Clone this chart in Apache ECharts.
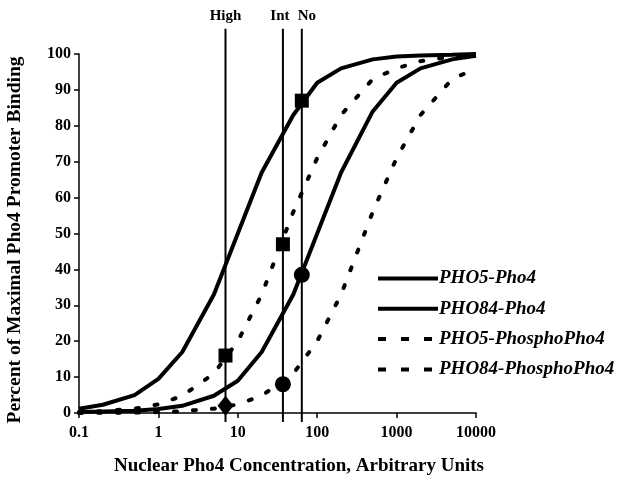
<!DOCTYPE html>
<html>
<head>
<meta charset="utf-8">
<script src="https://cdn.jsdelivr.net/npm/echarts@6/dist/echarts.min.js"></script>
<style>
  html, body { margin: 0; padding: 0; background: #fff; }
  #chart { width: 620px; height: 481px; }
</style>
</head>
<body>
<div id="chart"></div>
<script>
// Nuclear Pho4 concentration (arbitrary units) at which binding was evaluated
const concentrations = [0.1, 0.2, 0.5, 1, 2, 5, 10, 20, 50, 100, 200, 500, 1000, 2000, 5000, 10000];

// Percent of maximal promoter binding for each promoter / Pho4 form
const pho5Pho4      = [1.2, 2.3, 5, 9.5, 17, 33, 50, 67, 83, 92, 96, 98.5, 99.3, 99.6, 99.8, 100];
const pho84Pho4     = [0.3, 0.4, 0.6, 1.1, 2, 4.8, 9, 17, 33, 50, 67, 84, 92, 96, 98.5, 99.5];
const pho5Phospho   = [0.3, 0.5, 1.2, 2.4, 4.8, 11, 20, 33, 56, 71, 83, 93, 96, 98, 99.3, 99.7];
const pho84Phospho  = [0, 0.05, 0.1, 0.25, 0.5, 1.2, 2.4, 4.8, 11, 20, 33, 56, 71, 83, 93, 96];

// Phosphate conditions and their nuclear Pho4 levels
const conditionNames = ['High', 'Int', 'No'];
const conditionConc  = [7, 37, 64];
const pho5AtCondition  = [16, 47, 87];
const pho84AtCondition = [2, 8, 38.5];

const seriesNames = ['PHO5-Pho4', 'PHO84-Pho4', 'PHO5-PhosphoPho4', 'PHO84-PhosphoPho4'];
const xTickLabels = ['0.1', '1', '10', '100', '1000', '10000'];

const FONT = 'Liberation Serif';
const curveSets = [pho5Pho4, pho84Pho4, pho5Phospho, pho84Phospho];
const dashed = [false, false, true, true];

const series = curveSets.map((vals, i) => ({
  name: seriesNames[i],
  type: 'line',
  data: concentrations.map((c, j) => [c, vals[j]]),
  symbol: 'none',
  smooth: false,
  z: 3,
  itemStyle: { color: '#000' },
  lineStyle: {
    color: '#000',
    width: 4,
    type: dashed[i] ? [3, 16] : 'solid',
    cap: dashed[i] ? 'round' : 'butt'
  }
}));

// Vertical reference lines for each phosphate condition, running past the plot frame
const LINE_BOTTOM = -2.5, LINE_TOP = 107;
conditionNames.forEach((name, i) => {
  series.push({
    name: name,
    type: 'line',
    data: [[conditionConc[i], LINE_BOTTOM], [conditionConc[i], LINE_TOP]],
    symbol: 'none',
    clip: false,
    z: 2,
    lineStyle: { color: '#000', width: 2 },
    silent: true
  });
});

// Condition names written above the reference lines (the two close ones nudged apart)
const labelNudge = [0, -3, 5];
series.push({
  name: 'Condition labels',
  type: 'scatter',
  data: conditionConc.map((c, i) => ({
    value: [c, LINE_TOP],
    name: conditionNames[i],
    label: { offset: [labelNudge[i], 0] }
  })),
  symbolSize: 0,
  clip: false,
  silent: true,
  itemStyle: { color: '#000', opacity: 1 },
  label: {
    show: true,
    position: 'top',
    distance: 5,
    color: '#000',
    opacity: 1,
    fontFamily: FONT,
    fontWeight: 'bold',
    fontSize: 15,
    formatter: p => p.name
  }
});

// Binding at each condition: squares for PHO5, circles (diamond at High) for PHO84
series.push({
  name: 'PHO5 at condition',
  type: 'scatter',
  data: conditionConc.map((c, i) => [c, pho5AtCondition[i]]),
  symbol: 'rect',
  symbolSize: 14,
  clip: false,
  z: 5,
  itemStyle: { color: '#000', opacity: 1 }
});
series.push({
  name: 'PHO84 at condition',
  type: 'scatter',
  data: conditionConc.map((c, i) => ({
    value: [c, pho84AtCondition[i]],
    symbol: i === 0 ? 'diamond' : 'circle',
    symbolSize: i === 0 ? [16, 20] : 16
  })),
  clip: false,
  z: 5,
  itemStyle: { color: '#000', opacity: 1 }
});

const legendData = seriesNames.map((name, i) => ({
  name: name,
  lineStyle: dashed[i]
    ? { color: '#000', width: 4, type: [8, 15], cap: 'butt' }
    : { color: '#000', width: 4, type: 'solid' }
}));

const chart = echarts.init(document.getElementById('chart'), null, { renderer: 'canvas' });
chart.setOption({
  backgroundColor: '#fff',
  animation: false,
  grid: { left: 79, right: 144, top: 54, bottom: 68, containLabel: false },
  xAxis: {
    type: 'log',
    logBase: 10,
    min: 0.1,
    max: 10000,
    splitLine: { show: false },
    minorTick: { show: false },
    axisLine: { lineStyle: { color: '#000', width: 1.5 } },
    axisTick: { show: true, inside: false, length: 5, lineStyle: { color: '#000', width: 1.5 } },
    axisLabel: {
      margin: 12,
      color: '#000',
      fontFamily: FONT,
      fontWeight: 'bold',
      fontSize: 16,
      formatter: v => xTickLabels[Math.round(Math.log10(v)) + 1]
    }
  },
  yAxis: {
    type: 'value',
    min: 0,
    max: 100,
    interval: 10,
    splitLine: { show: false },
    axisLine: { show: true, lineStyle: { color: '#000', width: 1.5 } },
    axisTick: { show: true, inside: false, length: 5, lineStyle: { color: '#000', width: 1.5 } },
    axisLabel: { margin: 8, color: '#000', fontFamily: FONT, fontWeight: 'bold', fontSize: 16 }
  },
  legend: {
    data: legendData,
    orient: 'vertical',
    left: 371,
    top: 264,
    itemWidth: 60,
    itemHeight: 16,
    itemGap: 11.3,
    selectedMode: false,
    itemStyle: { opacity: 0 },
    lineStyle: { width: 4, color: '#000' },
    textStyle: { color: '#000', fontFamily: FONT, fontWeight: 'bold', fontStyle: 'italic', fontSize: 19, padding: [0, 0, 0, -4] }
  },
  graphic: [
    {
      type: 'text',
      x: 299,
      y: 466,
      style: {
        text: 'Nuclear Pho4 Concentration, Arbitrary Units',
        fill: '#000',
        font: 'bold 19px "Liberation Serif"',
        align: 'center',
        verticalAlign: 'middle'
      }
    },
    {
      type: 'text',
      x: 15,
      y: 240,
      rotation: Math.PI / 2,
      style: {
        text: 'Percent of Maximal Pho4 Promoter Binding',
        fill: '#000',
        font: 'bold 19.5px "Liberation Serif"',
        align: 'center',
        verticalAlign: 'middle'
      }
    }
  ],
  series: series
});
</script>
</body>
</html>
